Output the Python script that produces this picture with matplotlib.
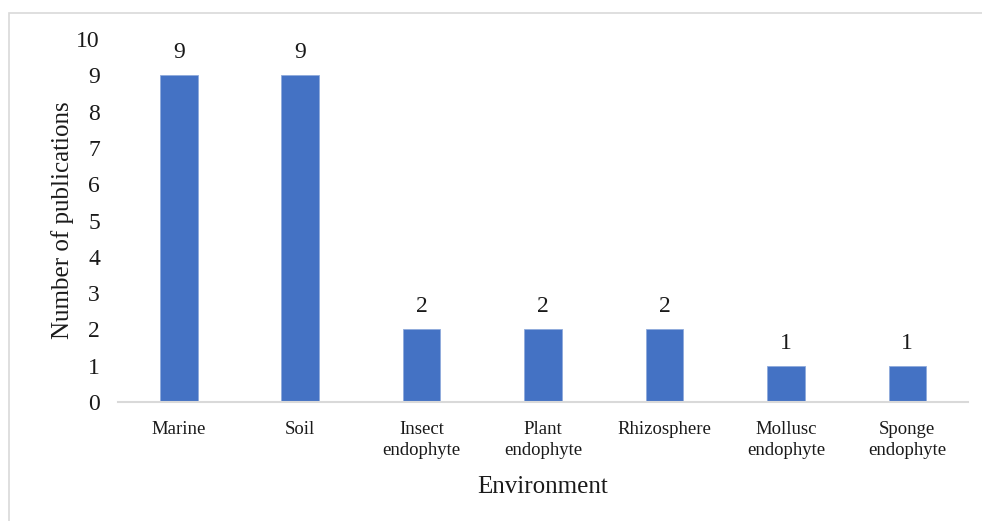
import matplotlib.pyplot as plt
from matplotlib.patches import Rectangle

# ----------------------------
# DATA
# ----------------------------
environments = ["Marine", "Soil", "Insect\nendophyte", "Plant\nendophyte",
                "Rhizosphere", "Mollusc\nendophyte", "Sponge\nendophyte"]
publications = [9, 9, 2, 2, 2, 1, 1]
y_ticks = list(range(0, 11))

plt.rcParams['font.family'] = ['Liberation Serif', 'DejaVu Serif']

# ----------------------------
# PLOT
# ----------------------------
fig = plt.figure(figsize=(9.82, 5.21), dpi=100)
ax = fig.add_axes([0.1202, 0.2284, 0.8656, 0.6967])

x = range(len(environments))
ax.bar(x, publications, width=0.31, color="#4472C4", edgecolor="#8FAADC", linewidth=0.6, zorder=2)

for i, v in enumerate(publications):
    ax.text(i, v + 0.33, str(v), ha='center', va='bottom', fontsize=17, color="#1a1a1a")

ax.set_xlim(-0.5, len(environments) - 0.5)
ax.set_ylim(0, 10)
ax.set_yticks(y_ticks)
ax.set_yticklabels([str(t) for t in y_ticks], fontsize=17, color="#1a1a1a")
ax.set_xticks(list(x))
ax.set_xticklabels(environments, fontsize=13.5, color="#1a1a1a", linespacing=1.3)
ax.tick_params(axis='both', length=0)
ax.tick_params(axis='x', pad=14)
ax.tick_params(axis='y', pad=13)

for side in ["top", "right", "left"]:
    ax.spines[side].set_visible(False)
ax.spines["bottom"].set_color("#D9D9D9")
ax.spines["bottom"].set_linewidth(1.5)

ax.set_xlabel("Environment", fontsize=18, color="#1a1a1a", labelpad=12)
ax.set_ylabel("Number of publications", fontsize=18, color="#1a1a1a", labelpad=2)

# light frame around the chart area
fig.patches.append(Rectangle((9 / 982, -0.05), 1.0, 1 - 13 / 521 + 0.05, transform=fig.transFigure,
                             fill=False, edgecolor="#D9D9D9", linewidth=1.2))

fig.savefig("out.png", dpi=100)
